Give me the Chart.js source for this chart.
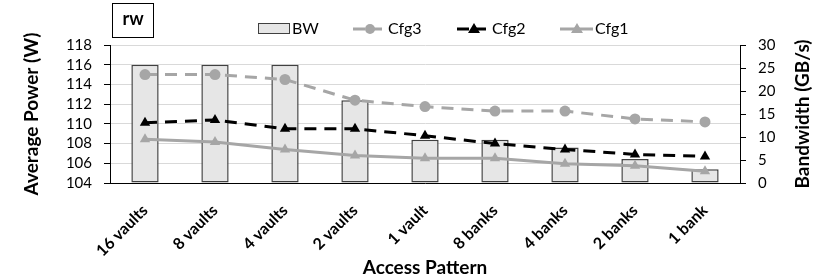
<!DOCTYPE html>
<html>
<head>
<meta charset="utf-8">
<script src="https://cdn.jsdelivr.net/npm/chart.js@4"></script>
<style>
  body { margin: 0; background: #fff; }
  canvas { display: block; }
</style>
</head>
<body>
<canvas id="chart" width="830" height="277"></canvas>
<script>
// Data
const patterns = ['16 vaults', '8 vaults', '4 vaults', '2 vaults', '1 vault', '8 banks', '4 banks', '2 banks', '1 bank'];
const bandwidth = [25.7, 25.7, 25.7, 18.0, 9.4, 9.4, 7.7, 5.2, 3.0];
const cfg3 = [115.0, 115.0, 114.5, 112.4, 111.75, 111.3, 111.3, 110.5, 110.2];
const cfg2 = [110.1, 110.4, 109.5, 109.5, 108.8, 108.0, 107.4, 106.9, 106.7];
const cfg1 = [108.45, 108.15, 107.4, 106.8, 106.5, 106.5, 105.95, 105.75, 105.2];
const powerTicks = [104, 118, 2];
const bwTicks = [0, 30, 5];

const GRAY = '#a6a6a6';

Chart.defaults.font.family = 'Lato';
Chart.defaults.color = '#000';

// Legend, "rw" label box and right axis title drawn on top of the chart
const legendPlugin = {
    id: 'topLegend',
    afterDraw(chart) {
        const ctx = chart.ctx;
        const area = chart.chartArea;
        ctx.save();

        // rw box
        ctx.strokeStyle = '#000';
        ctx.lineWidth = 1;
        ctx.strokeRect(112.5, 3.5, 41, 34);
        ctx.font = 'bold 18px Lato';
        ctx.textAlign = 'center';
        ctx.textBaseline = 'middle';
        ctx.fillStyle = '#000';
        ctx.fillText('rw', 133, 19);

        // right axis title, reads bottom to top like the left one
        ctx.save();
        ctx.translate(803, (area.top + area.bottom) / 2);
        ctx.rotate(-Math.PI / 2);
        ctx.font = 'bold 19px Lato';
        ctx.fillText('Bandwidth (GB/s)', 0, 0);
        ctx.restore();

        ctx.font = '16px Lato';
        ctx.textAlign = 'left';
        const y = 29;

        // BW
        ctx.fillStyle = '#e6e6e6';
        ctx.fillRect(258.5, 23.5, 31, 10);
        ctx.strokeStyle = '#404040';
        ctx.strokeRect(258.5, 23.5, 31, 10);
        ctx.fillStyle = '#000';
        ctx.fillText('BW', 292, y);

        // line samples
        const samples = [
            { x: 353, label: 'Cfg3', color: GRAY, dash: [12, 5], shape: 'circle' },
            { x: 457, label: 'Cfg2', color: '#000', dash: [12, 5], shape: 'tri' },
            { x: 560, label: 'Cfg1', color: GRAY, dash: [], shape: 'tri' }
        ];
        samples.forEach(s => {
            ctx.strokeStyle = s.color;
            ctx.lineWidth = 3;
            ctx.setLineDash(s.dash);
            ctx.beginPath();
            ctx.moveTo(s.x, y);
            ctx.lineTo(s.x + 33, y);
            ctx.stroke();
            ctx.setLineDash([]);
            ctx.fillStyle = s.color;
            const cx = s.x + 17;
            ctx.beginPath();
            if (s.shape === 'circle') {
                ctx.arc(cx, y, 5, 0, Math.PI * 2);
            } else {
                ctx.moveTo(cx, y - 6);
                ctx.lineTo(cx + 6, y + 4);
                ctx.lineTo(cx - 6, y + 4);
                ctx.closePath();
            }
            ctx.fill();
            ctx.fillStyle = '#000';
            ctx.fillText(s.label, s.x + 35, y);
        });

        ctx.restore();
    }
};

const ctx = document.getElementById('chart').getContext('2d');
const chart = new Chart(ctx, {
    type: 'bar',
    data: {
        labels: patterns,
        datasets: [
            {
                type: 'line',
                label: 'Cfg3',
                data: cfg3,
                yAxisID: 'power',
                borderColor: GRAY,
                backgroundColor: GRAY,
                borderWidth: 3,
                borderDash: [12, 8],
                pointStyle: 'circle',
                pointRadius: 5.5,
                pointBorderWidth: 0,
                tension: 0,
                order: 1
            },
            {
                type: 'line',
                label: 'Cfg2',
                data: cfg2,
                yAxisID: 'power',
                borderColor: '#000',
                backgroundColor: '#000',
                borderWidth: 3,
                borderDash: [12, 8],
                pointStyle: 'triangle',
                pointRadius: 6,
                pointBorderWidth: 0,
                tension: 0,
                order: 2
            },
            {
                type: 'line',
                label: 'Cfg1',
                data: cfg1,
                yAxisID: 'power',
                borderColor: GRAY,
                backgroundColor: GRAY,
                borderWidth: 3,
                pointStyle: 'triangle',
                pointRadius: 6,
                pointBorderWidth: 0,
                tension: 0,
                order: 3
            },
            {
                label: 'BW',
                data: bandwidth,
                yAxisID: 'bw',
                backgroundColor: '#e6e6e6',
                borderColor: '#404040',
                borderWidth: 1.5,
                borderSkipped: false,
                barPercentage: 0.39,
                categoryPercentage: 1,
                order: 10
            }
        ]
    },
    options: {
        responsive: false,
        devicePixelRatio: 1,
        animation: false,
        layout: { padding: { top: 45 } },
        plugins: {
            legend: { display: false },
            tooltip: { enabled: false }
        },
        scales: {
            x: {
                offset: true,
                grid: { display: false },
                border: { color: '#000', width: 1 },
                ticks: {
                    maxRotation: 45,
                    minRotation: 45,
                    autoSkip: false,
                    padding: 10,
                    font: { size: 16, weight: 'bold' }
                },
                title: {
                    display: true,
                    text: 'Access Pattern',
                    font: { size: 19, weight: 'bold', lineHeight: 1 },
                    padding: 0
                },
                afterFit(scale) { scale.height = 94; }
            },
            power: {
                position: 'left',
                min: powerTicks[0],
                max: powerTicks[1],
                ticks: { stepSize: powerTicks[2], autoSkip: false, font: { size: 15 }, padding: 12 },
                grid: { color: '#d9d9d9', tickColor: '#000', tickLength: 6 },
                border: { color: '#000', width: 1 },
                title: {
                    display: true,
                    text: 'Average Power (W)',
                    font: { size: 19, weight: 'bold', lineHeight: 1.2 },
                    padding: { top: 20, bottom: 0 }
                },
                afterFit(scale) { scale.width = 110; }
            },
            bw: {
                position: 'right',
                min: bwTicks[0],
                max: bwTicks[1],
                ticks: { stepSize: bwTicks[2], autoSkip: false, font: { size: 15 }, padding: 12 },
                grid: { drawOnChartArea: false, tickColor: '#000', tickLength: 6 },
                border: { color: '#000', width: 1 },
                afterFit(scale) { scale.width = 90; }
            }
        }
    },
    plugins: [legendPlugin]
});
</script>
</body>
</html>
